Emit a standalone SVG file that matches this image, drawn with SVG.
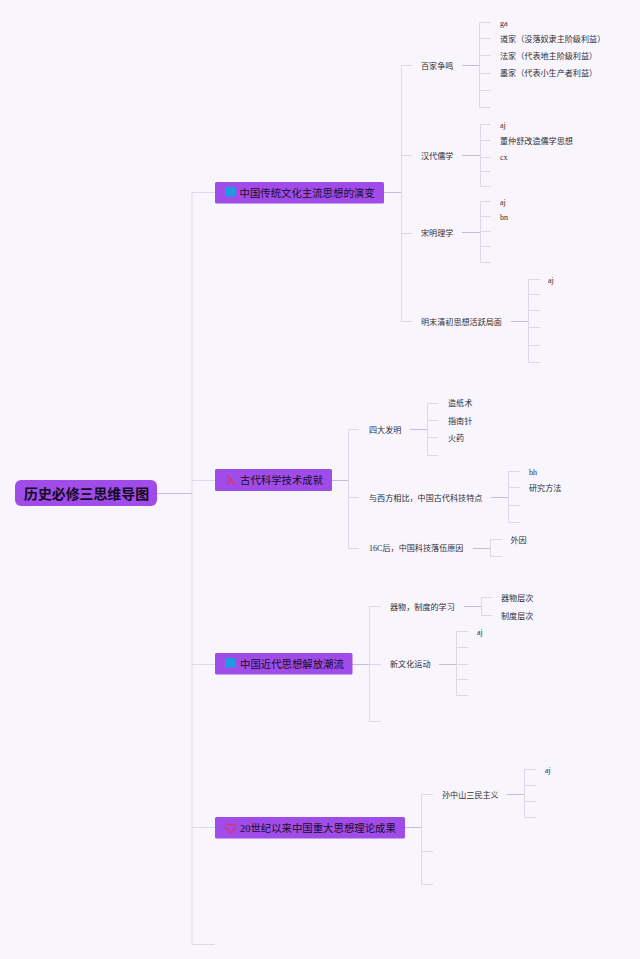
<svg xmlns="http://www.w3.org/2000/svg" width="640" height="959" viewBox="0 0 640 959">
<style>
text{font-family:"Liberation Serif","Noto Sans CJK SC",serif;dominant-baseline:central}
.t{font-size:8.100px;fill:#2e2e33}
.c{font-size:10.400px;fill:#160c28}
.r{font-size:13.900px;font-weight:700;fill:#120820}
.n{fill:#a04ce9}
.l{fill:none;stroke:#dcd7ea;stroke-width:1}
.m{fill:none;stroke:#c3bae2;stroke-width:1}
</style>
<rect width="640" height="959" fill="#f9f5fd"/>
<g id="connectors">
<path class="m" d="M157 493.500H192"/>
<path class="l" d="M215 192.500H192V944.500H215M192 480.500H215M192 664.500H215M192 827.500H215"/>
<path class="m" d="M384 192.500H401"/>
<path class="l" d="M412 65.500H401.500V321.500H412M401.500 155.500H412M401.500 233.500H412"/>
<path class="m" d="M462 65.500H479M462 155.500H480M462 232.500H480M511 321.500H528"/>
<path class="l" d="M491 22.500H479.500V107.500H491M479.500 38.500H491M479.500 55.500H491M479.500 73.500H491M479.500 90.500H491"/>
<path class="l" d="M491 124.500H480.500V186.500H491M480.500 140.500H491M480.500 157.500H491M480.500 171.500H491"/>
<path class="l" d="M491 201.500H480.500V262.500H491M480.500 216.500H491M480.500 231.500H491M480.500 246.500H491"/>
<path class="l" d="M540 279.500H528.500V362.500H540M528.500 294.500H540M528.500 310.500H540M528.500 327.500H540M528.500 345.500H540"/>
<path class="m" d="M332 480.500H348"/>
<path class="l" d="M359 429.500H348.500V548.500H359M348.500 497.500H359"/>
<path class="m" d="M410 429.500H427M491 497.500H508M473 548.500H490"/>
<path class="l" d="M438 403.500H427.500V455.500H438M427.500 420.500H438M427.500 437.500H438"/>
<path class="l" d="M520 471.500H508.500V522.500H520M508.500 487.500H520M508.500 505.500H520"/>
<path class="l" d="M502 539.500H490.500V556.500H502"/>
<path class="m" d="M352 664.500H369"/>
<path class="l" d="M381 606.500H369.500V721.500H381M369.500 664.500H381"/>
<path class="m" d="M464 606.500H481M439 664.500H456"/>
<path class="l" d="M492 597.500H481.500V615.500H492"/>
<path class="l" d="M468 631.500H456.500V695.500H468M456.500 647.500H468M456.500 664.500H468M456.500 679.500H468"/>
<path class="m" d="M405 827.500H421"/>
<path class="l" d="M433 794.500H421.500V884.500H433M421.500 851.500H433"/>
<path class="m" d="M507 794.500H524"/>
<path class="l" d="M536 769.500H524.500V817.500H536M524.500 785.500H536M524.500 801.500H536"/>
</g>
<g id="root"><rect class="n" x="15" y="480" width="142" height="26" rx="6"/><text class="r" x="24" y="494">历史必修三思维导图</text></g>
<g id="node-1"><rect class="n" x="215" y="182" width="169" height="21.500" rx="1.500"/><rect x="225" y="187" width="10" height="9.500" fill="#1d9be0"/><text class="c" x="239.500" y="193">中国传统文化主流思想的演变</text></g>
<g id="node-2"><rect class="n" x="215" y="469" width="117" height="22" rx="1.500"/><path d="M227 476L235 485M227 484L232 478" fill="none" stroke="#e5315f" stroke-width="1.400"/><text class="c" x="240" y="480.500">古代科学技术成就</text></g>
<g id="node-3"><rect class="n" x="215" y="653" width="137.500" height="21.500" rx="1.500"/><rect x="225" y="658" width="10" height="9.500" fill="#1d9be0"/><text class="c" x="240" y="664">中国近代思想解放潮流</text></g>
<g id="node-4"><rect class="n" x="215" y="817" width="190" height="21.500" rx="1.500"/><path d="M230.500 833L226 828C224 825 227 823 230.500 825C234 823 237 825 235 828Z" fill="none" stroke="#e5315f" stroke-width="1.200"/><text class="c" x="240" y="828">20世纪以来中国重大思想理论成果</text></g>
<g id="n11"><text class="t" x="421" y="66">百家争鸣</text></g>
<g id="n111"><text class="t" x="500" y="23">ga</text></g>
<g id="n112"><text class="t" x="500" y="39">道家（没落奴隶主阶级利益）</text></g>
<g id="n113"><text class="t" x="500" y="56">法家（代表地主阶级利益）</text></g>
<g id="n114"><text class="t" x="500" y="73.500">墨家（代表小生产者利益）</text></g>
<g id="n12"><text class="t" x="421" y="156">汉代儒学</text></g>
<g id="n121"><text class="t" x="500" y="125">aj</text></g>
<g id="n122"><text class="t" x="500" y="141">董仲舒改造儒学思想</text></g>
<g id="n123"><text class="t" x="500" y="157">cx</text></g>
<g id="n13"><text class="t" x="421" y="233">宋明理学</text></g>
<g id="n131"><text class="t" x="500" y="202">aj</text></g>
<g id="n132"><text class="t" x="500" y="217">bn</text></g>
<g id="n14"><text class="t" x="421" y="322">明末清初思想活跃局面</text></g>
<g id="n141"><text class="t" x="548" y="280">aj</text></g>
<g id="n21"><text class="t" x="369" y="430">四大发明</text></g>
<g id="n211"><text class="t" x="448" y="403.500">造纸术</text></g>
<g id="n212"><text class="t" x="448" y="421">指南针</text></g>
<g id="n213"><text class="t" x="448" y="438.500">火药</text></g>
<g id="n22"><text class="t" x="369" y="498">与西方相比，中国古代科技特点</text></g>
<g id="n221"><text class="t" x="529" y="472">bh</text></g>
<g id="n222"><text class="t" x="529" y="488.500">研究方法</text></g>
<g id="n23"><text class="t" x="369" y="548.500">16C后，中国科技落伍原因</text></g>
<g id="n231"><text class="t" x="510.500" y="540.500">外因</text></g>
<g id="n31"><text class="t" x="390" y="607">器物，制度的学习</text></g>
<g id="n311"><text class="t" x="501" y="598.500">器物层次</text></g>
<g id="n312"><text class="t" x="501" y="616">制度层次</text></g>
<g id="n32"><text class="t" x="390" y="664.500">新文化运动</text></g>
<g id="n321"><text class="t" x="477" y="632">aj</text></g>
<g id="n41"><text class="t" x="442" y="795">孙中山三民主义</text></g>
<g id="n411"><text class="t" x="545" y="770">aj</text></g>
</svg>
